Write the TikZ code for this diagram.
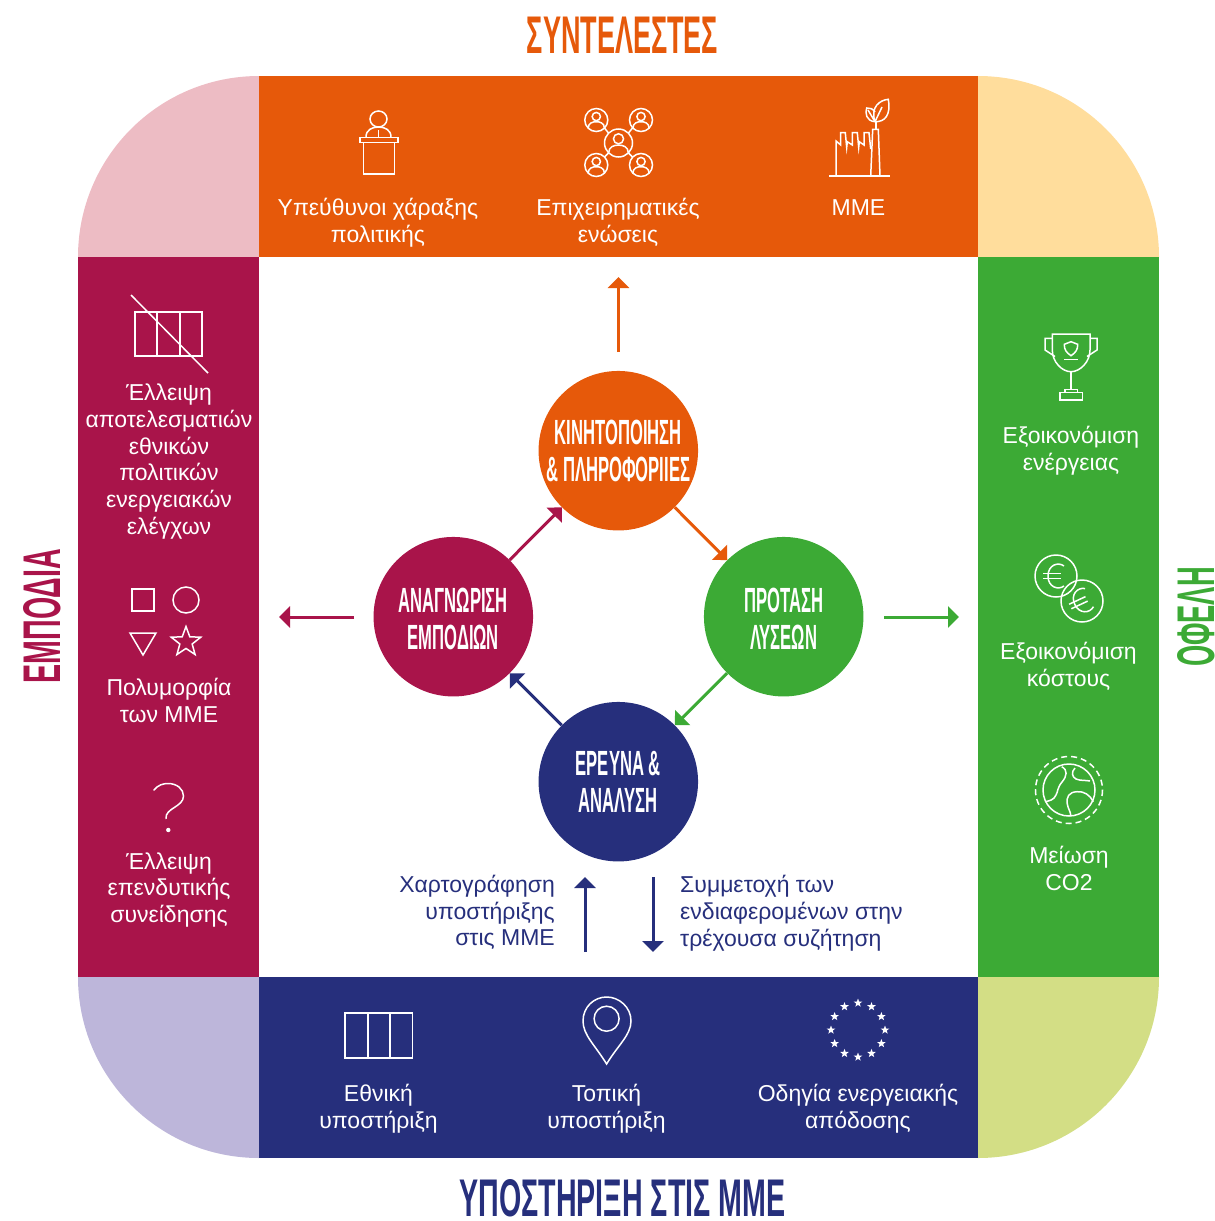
\documentclass[tikz,border=0pt]{standalone}
\usepackage{fontspec}
\setmainfont{Liberation Sans}
\newfontfamily\headfont{Liberation Sans}[FakeStretch=0.5]
\newfontfamily\stagefont{Liberation Sans}[FakeStretch=0.475]
\usetikzlibrary{positioning,calc,arrows,arrows.meta,shapes.geometric}
\definecolor{orng}{HTML}{E6590A}
\definecolor{mroon}{HTML}{A9144A}
\definecolor{grn}{HTML}{3CAA35}
\definecolor{nvy}{HTML}{262F7C}
\definecolor{cpink}{HTML}{EDBCC4}
\definecolor{cyell}{HTML}{FFDD9C}
\definecolor{clav}{HTML}{BDB6DA}
\definecolor{clime}{HTML}{D3DE85}
\newcommand{\stagepad}{\rule{0pt}{29pt}}
\tikzset{
	arr/.style={line width=3pt, -{Triangle[length=11pt,width=21pt]}},
	iconline/.style={draw=white, line width=1.5pt},
	label/.style={align=center, inner sep=0pt, text=white, font=\fontsize{23}{26.8}\selectfont},
	navytext/.style={inner sep=0pt, text=nvy, font=\fontsize{23}{26.8}\selectfont},
	stage/.style={circle, minimum size=159.5pt, inner sep=-10pt, align=center, text=white, font=\stagefont\bfseries\fontsize{35}{37}\selectfont},
	title/.style={inner sep=0pt, font=\headfont\bfseries\fontsize{53}{53}\selectfont},
	eustar/.style={star, star points=5, star point ratio=2.4, fill=white, inner sep=0pt, minimum size=9pt},
	personcoin/.pic={
		\draw[iconline] (0,0) circle[radius=10];
		\draw[iconline] (0,-3) circle[radius=3.6];
		\draw[iconline] (-7,7) .. controls (-7,2.5) and (-3,1.5) .. (0,1.5) .. controls (3,1.5) and (7,2.5) .. (7,7);
	},
	eurosign/.pic={
		\draw[iconline] (8,-10) .. controls (2,-14.5) and (-8,-11) .. (-8,0) .. controls (-8,11) and (2,14.5) .. (8,10);
		\draw[iconline] (-13,-2.5) -- (5,-2.5);
		\draw[iconline] (-13,2.5) -- (5,2.5);
	}
}

\begin{document}
\begin{tikzpicture}[x=1pt, y=-1pt]
	\useasboundingbox (0,0) rectangle (1215,1221);

	% corners
	\fill[cpink] (78,257) .. controls (78,157) and (159,76) .. (259,76) -- (259,257) -- cycle;
	\fill[cyell] (978,76) .. controls (1078,76) and (1159,157) .. (1159,257) -- (978,257) -- cycle;
	\fill[clav] (78,977) .. controls (78,1077) and (159,1158) .. (259,1158) -- (259,977) -- cycle;
	\fill[clime] (978,1158) .. controls (1078,1158) and (1159,1077) .. (1159,977) -- (978,977) -- cycle;

	% bands
	\fill[orng] (259,76) rectangle (978,257);
	\fill[mroon] (78,257) rectangle (259,977);
	\fill[grn] (978,257) rectangle (1159,977);
	\fill[nvy] (259,977) rectangle (978,1158);

	% titles
	\node[title, text=orng] (titletop) at (622.5,35) {\scalebox{1.02}[1]{ΣΥΝΤΕΛΕΣΤΕΣ}};
	\node[title, text=mroon, rotate=90] (titleleft) at (42,616) {\scalebox{1.08}[1]{ΕΜΠΟΔΙΑ}};
	\node[title, text=grn, rotate=90] (titleright) at (1196,617) {\scalebox{1.03}[1]{ΟΦΕΛΗ}};
	\node[title, text=nvy] (titlebottom) at (622.5,1198) {\scalebox{1.08}[1]{ΥΠΟΣΤΗΡΙΞΗ ΣΤΙΣ ΜΜΕ}};

	% cycle
	\node[stage, fill=orng] (kin) at (618.3,450.7) {ΚΙΝΗΤΟΠΟΙΗΣΗ\\\& ΠΛΗΡΟΦΟΡΙΙΕΣ};
	\node[stage, fill=grn] (prot) at (783.7,616.7) {\stagepad ΠΡΟΤΑΣΗ\\ΛΥΣΕΩΝ};
	\node[stage, fill=nvy] (erev) at (618.3,781.7) {ΕΡΕΥΝΑ \&\\ΑΝΑΛΥΣΗ};
	\node[stage, fill=mroon] (anag) at (453.3,616.7) {\stagepad ΑΝΑΓΝΩΡΙΣΗ\\ΕΜΠΟΔΙΩΝ};

	\draw[arr, orng] (kin) -- (prot);
	\draw[arr, grn] (prot) -- (erev);
	\draw[arr, nvy] (erev) -- (anag);
	\draw[arr, mroon] (anag) -- (kin);

	% outer arrows
	\coordinate (upA) at (618.5,352);
	\coordinate (upB) at (618.5,277);
	\coordinate (leftA) at (354,617);
	\coordinate (leftB) at (279,617);
	\coordinate (rightA) at (884,617);
	\coordinate (rightB) at (959,617);
	\coordinate (mapA) at (585,952);
	\coordinate (mapB) at (585,877);
	\coordinate (partA) at (653,877);
	\coordinate (partB) at (653,952);
	\draw[arr, orng] (upA) -- (upB);
	\draw[arr, mroon] (leftA) -- (leftB);
	\draw[arr, grn] (rightA) -- (rightB);
	\draw[arr, nvy] (mapA) -- (mapB);
	\draw[arr, nvy] (partA) -- (partB);

	\node[navytext, align=right, anchor=east] (mapping) at (555,912.5) {Χαρτογράφηση\\υποστήριξης\\στις ΜΜΕ};
	\node[navytext, align=left, anchor=west] (participation) at (680,913.5) {Συμμετοχή των\\ενδιαφερομένων στην\\τρέχουσα συζήτηση};

	% top labels
	\node[label] (policy) at (378,222.5) {Υπεύθυνοι χάραξης\\πολιτικής};
	\node[label] (business) at (618,222.5) {Επιχειρηματικές\\ενώσεις};
	\node[label] (sme) at (858.5,207.5) {ΜΜΕ};

	% left labels
	\node[label] (lackpol) at (169,461.5) {Έλλειψη\\αποτελεσματιών\\εθνικών\\πολιτικών\\ενεργειακών\\ελέγχων};
	\node[label] (variety) at (169,700.5) {Πολυμορφία\\των ΜΜΕ};
	\node[label] (lackinv) at (169,890) {Έλλειψη\\επενδυτικής\\συνείδησης};

	% right labels
	\node[label] (saveen) at (1071,451) {Εξοικονόμιση\\ενέργειας};
	\node[label] (savecost) at (1068.5,666.5) {Εξοικονόμιση\\κόστους};
	\node[label] (reduce) at (1069,868.5) {Μείωση\\CO2};

	% bottom labels
	\node[label] (natsup) at (378.5,1109) {Εθνική\\υποστήριξη};
	\node[label] (locsup) at (606.5,1109) {Τοπική\\υποστήριξη};
	\node[label] (directive) at (858,1109) {Οδηγία ενεργειακής\\απόδοσης};

	% podium
	\draw[iconline] (378.5,119) ellipse[x radius=8.5, y radius=8];
	\draw[iconline] (366,137) .. controls (366,130) and (372,127) .. (378.5,127) .. controls (385,127) and (391,130) .. (391,137);
	\draw[iconline] (378.5,130) -- (378.5,137);
	\draw[iconline] (360,137.3) rectangle (398,142.3);
	\draw[iconline] (363.3,142.3) rectangle (394.5,174);

	% network
	\pic[scale=1.15] at (596.3,120) {personcoin};
	\pic[scale=1.15] at (641,120) {personcoin};
	\pic[scale=1.15] at (596.3,165) {personcoin};
	\pic[scale=1.15] at (641,165) {personcoin};
	\pic[scale=1.4] at (618.5,143) {personcoin};
	\draw[iconline] (604.5,128) -- (608.5,133);
	\draw[iconline] (632.5,128) -- (628.5,133);
	\draw[iconline] (604.5,157) -- (608.5,153);
	\draw[iconline] (632.5,157) -- (628.5,153);

	% factory
	\draw[iconline] (829.3,176) -- (890,176);
	\draw[iconline] (870.7,176) -- (872.7,129.3) -- (878.3,129.3) -- (880,176);
	\draw[iconline] (836,176) -- (836,141) -- (840.7,145) -- (840.7,132.7) -- (845.3,132.7) -- (846.7,147.3) -- (847.3,141.7) -- (852.3,145) -- (852.3,132.7) -- (857.3,132.7) -- (858.7,147.3) -- (859.3,141.7) -- (864,145) -- (864,132.7) -- (869,132.7) -- (870.7,149);
	\draw[iconline] (876,129.3) -- (876,121.7);
	\draw[iconline] (875,121.7) .. controls (870,107) and (880,100) .. (888.3,99.3) .. controls (891,115) and (885,122) .. (875,121.7);
	\draw[iconline] (875,121.7) -- (882,107);
	\draw[iconline] (875,121.7) .. controls (866,121) and (865,113) .. (866.7,108) .. controls (870,107.5) and (873,109) .. (875,112);
	\draw[iconline] (875,121.7) -- (868,110);

	% no table
	\draw[iconline] (135,312) rectangle (202,356);
	\draw[iconline] (157,312) -- (157,356);
	\draw[iconline] (180,312) -- (180,356);
	\draw[iconline] (131,295) -- (208,373);

	% shapes
	\draw[iconline] (132,589) rectangle (154,611);
	\draw[iconline] (186,600) circle[radius=13];
	\draw[iconline] (130,633) -- (156,633) -- (143,655) -- cycle;
	\node[star, star points=5, star point ratio=2.4, iconline, inner sep=0pt, minimum size=31pt] (staricon) at (186,642) {};

	% question mark
	\draw[iconline, line cap=round] (154,790) .. controls (158,785) and (163,783.5) .. (168,783.5) .. controls (177,783.5) and (183.5,789) .. (183.5,796) .. controls (183.5,807) and (165,808) .. (166,818.5);
	\fill[white] (168.3,830) circle[radius=2.2];

	% trophy
	\draw[iconline] (1052.3,334) -- (1052.3,350) .. controls (1052.3,362) and (1062,371.7) .. (1071,371.7) .. controls (1080,371.7) and (1090,362) .. (1090,350) -- (1090,334) -- cycle;
	\draw[iconline] (1052.3,338.3) -- (1045,338.3) -- (1045,350) -- (1055,356.5);
	\draw[iconline] (1090,338.3) -- (1097,338.3) -- (1097,350) -- (1087,356.5);
	\draw[iconline] (1071,371.7) -- (1071,389.3);
	\draw[iconline] (1065,389.3) rectangle (1077.3,392.7);
	\draw[iconline] (1060,392.7) rectangle (1082.7,400);
	\draw[iconline] (1064.3,344.3) -- (1071,341.7) -- (1077.7,344.3) .. controls (1078,350) and (1075,353) .. (1071,355.7) .. controls (1067,353) and (1064,350) .. (1064.3,344.3) -- cycle;
	\draw[iconline] (1064.3,359.3) -- (1077.7,359.3);

	% coins
	\draw[iconline] (1056,576) circle[radius=21];
	\draw[iconline] (1082,601) circle[radius=21];
	\pic at (1056,576) {eurosign};
	\pic[rotate=25] at (1082,601) {eurosign};

	% earth
	\draw[iconline, dashed, dash pattern=on 6pt off 4pt] (1069,790) circle[radius=33.5];
	\draw[iconline] (1069,790) circle[radius=26];
	\draw[iconline] (1061.7,766.7) .. controls (1068,770) and (1067,776) .. (1062,782) .. controls (1057,788) and (1058,792) .. (1056,795) .. controls (1054,800) and (1049,801) .. (1045,801.7);
	\draw[iconline] (1075,768) .. controls (1071,772) and (1072,777) .. (1076,779) .. controls (1081,781) and (1085,780) .. (1090,781);
	\draw[iconline] (1093.3,801.7) .. controls (1090,795) and (1084,791) .. (1077,791.7) .. controls (1069,792) and (1066,797) .. (1067.3,804) .. controls (1068,809) and (1071,812) .. (1070.7,816);

	% table
	\draw[iconline] (345,1013) rectangle (412.5,1058);
	\draw[iconline] (368,1013) -- (368,1058);
	\draw[iconline] (390,1013) -- (390,1058);

	% pin
	\draw[iconline] (606.6,1064) .. controls (595,1045) and (583,1035) .. (583,1021) .. controls (583,1007) and (594,997) .. (606.6,997) .. controls (619,997) and (631,1007) .. (631,1021) .. controls (631,1035) and (618,1045) .. (606.6,1064) -- cycle;
	\draw[iconline] (606.6,1018.7) circle[radius=12.5];

	% stars
	\foreach \i in {0,...,11}
		\node[eustar] (eu\i) at ({858+27*cos(30*\i)},{1030+27*sin(30*\i)}) {};
\end{tikzpicture}
\end{document}
